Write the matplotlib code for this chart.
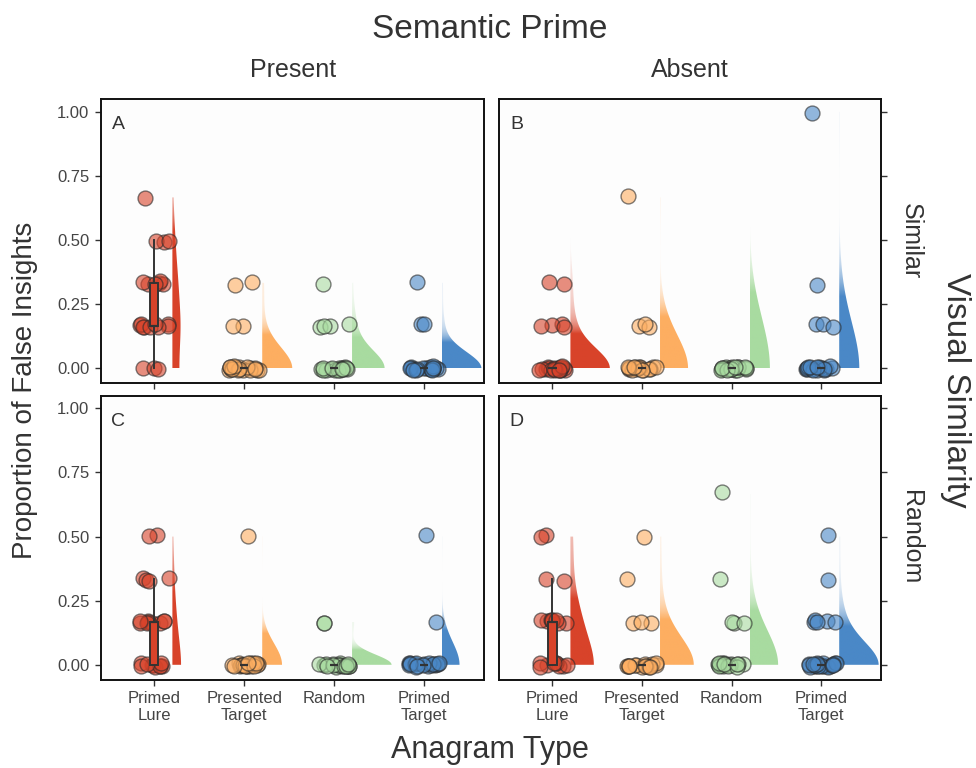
#!/usr/bin/env python3
import numpy as np
import matplotlib.pyplot as plt
from matplotlib.patches import Polygon
from matplotlib.colors import to_rgb

plt.rcParams['font.family'] = ['Liberation Sans', 'DejaVu Sans']

# proportion levels (out of 6 trials) and how many participants sit at each
LEVELS = [0, 1/6, 1/3, 1/2, 2/3, 5/6, 1]
ANAGRAM_TYPES = ['Primed\nLure', 'Presented\nTarget', 'Random', 'Primed\nTarget']
COLORS = ['#d8432a', '#fdae61', '#a8dba0', '#4a88c7']

counts_present_similar = [[3, 9, 6, 3, 1, 0, 0],
                          [18, 2, 2, 0, 0, 0, 0],
                          [17, 4, 1, 0, 0, 0, 0],
                          [19, 2, 1, 0, 0, 0, 0]]
counts_absent_similar = [[19, 4, 2, 0, 0, 0, 0],
                         [16, 3, 0, 0, 1, 0, 0],
                         [20, 0, 0, 0, 0, 0, 0],
                         [17, 3, 1, 0, 0, 0, 1]]
counts_present_random = [[10, 9, 4, 2, 0, 0, 0],
                         [21, 0, 0, 1, 0, 0, 0],
                         [19, 2, 0, 0, 0, 0, 0],
                         [19, 1, 0, 1, 0, 0, 0]]
counts_absent_random = [[9, 8, 2, 2, 0, 0, 0],
                        [16, 3, 1, 1, 0, 0, 0],
                        [16, 3, 1, 0, 1, 0, 0],
                        [22, 5, 1, 1, 0, 0, 0]]

# upper end of the density curve where it runs past the data
kde_top_absent_similar = [1.0, None, 1.0, None]

PANELS = [
    ('A', counts_present_similar, [None] * 4, [0.103, 0.501, 0.393, 0.370]),
    ('B', counts_absent_similar, kde_top_absent_similar, [0.511, 0.501, 0.392, 0.370]),
    ('C', counts_present_random, [None] * 4, [0.103, 0.115, 0.393, 0.370]),
    ('D', counts_absent_random, [None] * 4, [0.511, 0.115, 0.392, 0.370]),
]

TXT = '#333333'
rng = np.random.default_rng(11)


def density(values, grid, adjust=1.6):
    x = np.asarray(values, float)
    n = len(x)
    sd = x.std(ddof=1)
    q75, q25 = np.percentile(x, [75, 25])
    lo = min(sd, (q75 - q25) / 1.34) or sd or 0.25
    bw = 0.9 * lo * n ** -0.2 * adjust
    z = (grid[:, None] - x[None, :]) / bw
    zr = (grid[:, None] + x[None, :]) / bw
    d = (np.exp(-0.5 * z ** 2) + np.exp(-0.5 * zr ** 2)).sum(1)
    return d / (n * bw * np.sqrt(2 * np.pi))


def draw_panel(ax, letter, counts, tops, right_side):
    groups = [np.repeat(LEVELS, c) for c in counts]
    curves = []
    for vals, top in zip(groups, tops):
        top = top if top is not None else vals.max()
        grid = np.linspace(0, top, 300)
        curves.append((grid, density(vals, grid)))
    peak = max(d.max() for _, d in curves)

    for i, (vals, (grid, d)) in enumerate(zip(groups, curves)):
        pos = i + 1
        col = COLORS[i]

        # half violin, opacity follows the density
        base = pos + 0.2
        w = 0.44 * d / peak
        poly = np.column_stack([np.r_[base, base + w, base],
                                np.r_[0, grid, grid[-1]]])
        patch = Polygon(poly, closed=True, transform=ax.transData)
        rgba = np.zeros((len(grid), 1, 4))
        rgba[..., :3] = to_rgb(col)
        rgba[:, 0, 3] = np.clip(3.0 * d / d.max(), 0, 1)
        im = ax.imshow(rgba, extent=[base, base + w.max() + 0.01, 0, grid[-1]],
                       origin='lower', aspect='auto', interpolation='bilinear',
                       zorder=1)
        im.set_clip_path(patch)

        # jittered points
        xs = pos + rng.uniform(-0.17, 0.17, len(vals))
        ys = vals + rng.uniform(-0.008, 0.008, len(vals))
        ax.scatter(xs, ys, s=115, color=col, alpha=0.6, edgecolors='#2a2a2a',
                   linewidths=1, zorder=2)

        # narrow box
        ax.boxplot([vals], positions=[pos], widths=0.09, patch_artist=True,
                   showfliers=False, showcaps=False,
                   boxprops=dict(facecolor=col, edgecolor='#333333', linewidth=1.4),
                   whiskerprops=dict(color='#333333', linewidth=1.4),
                   medianprops=dict(color='#333333', linewidth=1.6),
                   zorder=3)

    ax.text(0.6, 0.95, letter, fontsize=14, color=TXT, ha='center', va='center')
    ax.set_xlim(0.4, 4.67)
    ax.set_ylim(-0.058, 1.05)
    ax.set_yticks([0, 0.25, 0.5, 0.75, 1.0])
    ax.set_yticklabels(['0.00', '0.25', '0.50', '0.75', '1.00'])
    ax.set_xticks([1, 2, 3, 4])
    ax.set_xticklabels(ANAGRAM_TYPES)
    ax.set_facecolor('#fdfdfd')
    for s in ax.spines.values():
        s.set_linewidth(1.4)
        s.set_color('#111111')
    ax.tick_params(length=4, width=1, color='#333333', labelcolor='#444444',
                   labelsize=12, pad=4)
    if right_side:
        ax.yaxis.tick_right()
        ax.tick_params(axis='y', labelright=False)
    if letter in 'AB':
        ax.tick_params(axis='x', labelbottom=False)


def main():
    fig = plt.figure(figsize=(9.76, 7.68), dpi=100)
    for letter, counts, tops, rect in PANELS:
        ax = fig.add_axes(rect)
        draw_panel(ax, letter, counts, tops, letter in 'BD')

    fig.text(0.502, 0.961, 'Semantic Prime', fontsize=24, color=TXT,
             ha='center', va='center')
    fig.text(0.300, 0.909, 'Present', fontsize=18, color=TXT, ha='center', va='center')
    fig.text(0.707, 0.909, 'Absent', fontsize=18, color=TXT, ha='center', va='center')
    fig.text(0.933, 0.686, 'Similar', fontsize=18, color=TXT, ha='center',
             va='center', rotation=270)
    fig.text(0.933, 0.300, 'Random', fontsize=18, color=TXT, ha='center',
             va='center', rotation=270)
    fig.text(0.979, 0.492, 'Visual Similarity', fontsize=24, color=TXT,
             ha='center', va='center', rotation=270)
    fig.text(0.026, 0.492, 'Proportion of False Insights', fontsize=20, color=TXT,
             ha='center', va='center', rotation=90)
    fig.text(0.502, 0.023, 'Anagram Type', fontsize=22, color=TXT,
             ha='center', va='center')
    fig.savefig('out.png', dpi=100, facecolor='white')


if __name__ == '__main__':
    main()
